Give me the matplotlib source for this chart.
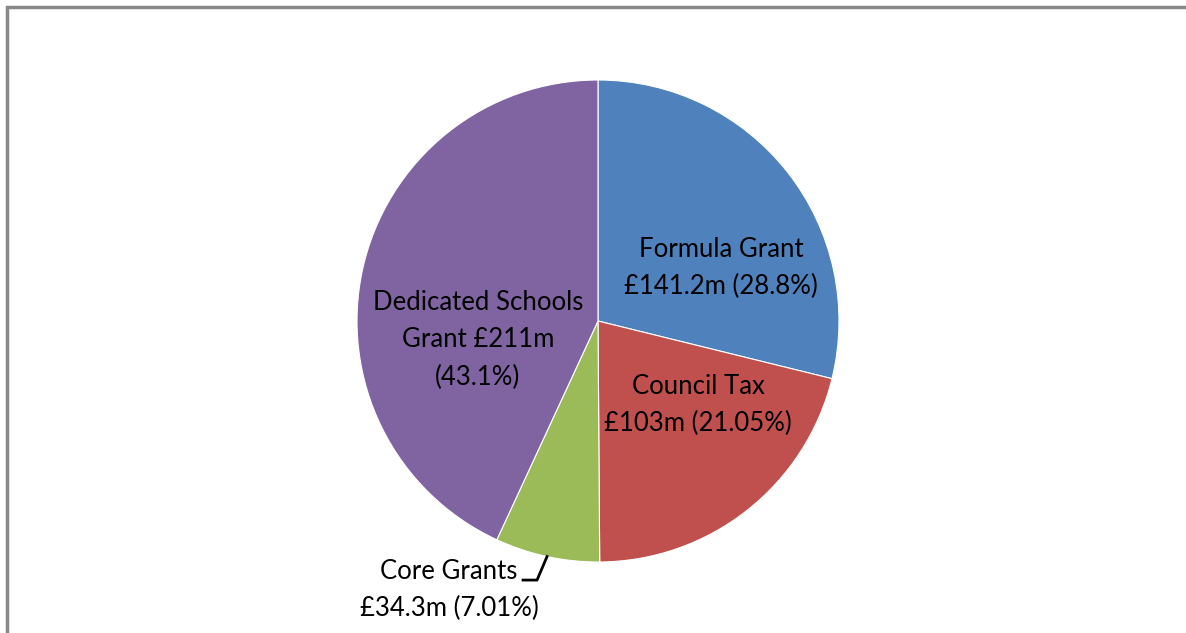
import matplotlib
matplotlib.use('Agg')
import matplotlib.pyplot as plt
from matplotlib.patches import Rectangle
import numpy as np

labels = ['Formula Grant\n£141.2m (28.8%)',
          'Council Tax\n£103m (21.05%)',
          'Core Grants\n£34.3m (7.01%)',
          'Dedicated Schools\nGrant £211m\n(43.1%)']
values = [141.2, 103, 34.3, 211]
colors = ['#4F81BD', '#C0504D', '#9BBB59', '#8064A2']

# label centres, in pie-radius units
label_pos = [(0.51, 0.22), (0.415, -0.349), (-0.618, -1.116), (-0.498, -0.079)]

W, H = 1186, 633
R = 241
cx, cy = 598, H - 321

fig = plt.figure(figsize=(W / 100, H / 100), dpi=100)
fig.patch.set_facecolor('white')

ax = fig.add_axes([(cx - R) / W, (cy - R) / H, 2 * R / W, 2 * R / H])
wedges, _ = ax.pie(values, colors=colors, startangle=90, counterclock=False,
                   radius=1, wedgeprops=dict(edgecolor='white', linewidth=0.8))
ax.set_xlim(-1, 1)
ax.set_ylim(-1, 1)
ax.set_aspect('equal')
ax.axis('off')

for lab, (x, y) in zip(labels, label_pos):
    ax.text(x, y, lab, ha='center', va='center', fontsize=18.5,
            family='Lato', color='black', linespacing=1.62, clip_on=False)

# leader line for the small slice
w = wedges[2]
mid = np.deg2rad((w.theta1 + w.theta2) / 2)
ex, ey = np.cos(mid), np.sin(mid)
ax.plot([ex, -0.253, -0.311], [ey, -1.075, -1.075], color='black',
        lw=2, clip_on=False)

# chart frame
fig.add_artist(Rectangle((7 / W, -0.1), 1.2, 1 - 7 / H + 0.1,
                         transform=fig.transFigure, fill=False,
                         edgecolor='#898989', linewidth=2.5))

fig.savefig('out.png', dpi=100)
